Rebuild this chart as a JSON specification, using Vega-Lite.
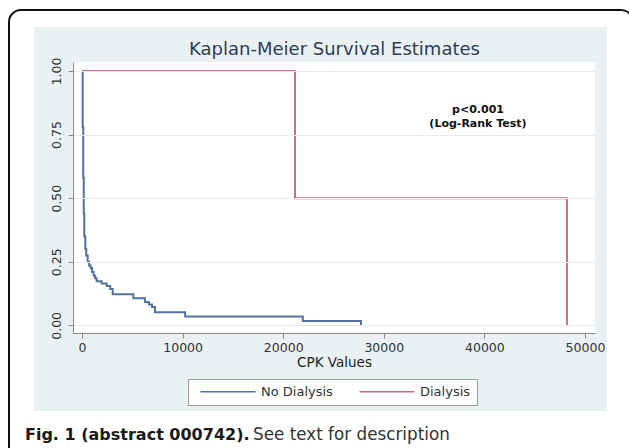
{
  "$schema": "https://vega.github.io/schema/vega-lite/v6.json",
  "width": 522,
  "height": 271,
  "autosize": {"type": "none"},
  "padding": {"left": 73, "top": 62, "right": 34, "bottom": 115},
  "background": "white",
  "config": {"view": {"stroke": null, "fill": "white"}, "font": "DejaVu Sans"},
  "datasets": {
    "km": [
      {"group": "No Dialysis", "cpk": 0, "surv": 1.0},
      {"group": "No Dialysis", "cpk": 60, "surv": 0.78},
      {"group": "No Dialysis", "cpk": 120, "surv": 0.58},
      {"group": "No Dialysis", "cpk": 170, "surv": 0.44},
      {"group": "No Dialysis", "cpk": 220, "surv": 0.35},
      {"group": "No Dialysis", "cpk": 320, "surv": 0.30},
      {"group": "No Dialysis", "cpk": 420, "surv": 0.275},
      {"group": "No Dialysis", "cpk": 560, "surv": 0.25},
      {"group": "No Dialysis", "cpk": 700, "surv": 0.235},
      {"group": "No Dialysis", "cpk": 850, "surv": 0.225},
      {"group": "No Dialysis", "cpk": 1000, "surv": 0.21},
      {"group": "No Dialysis", "cpk": 1150, "surv": 0.195},
      {"group": "No Dialysis", "cpk": 1300, "surv": 0.185},
      {"group": "No Dialysis", "cpk": 1450, "surv": 0.173},
      {"group": "No Dialysis", "cpk": 1950, "surv": 0.165},
      {"group": "No Dialysis", "cpk": 2450, "surv": 0.155},
      {"group": "No Dialysis", "cpk": 2800, "surv": 0.143},
      {"group": "No Dialysis", "cpk": 3050, "surv": 0.122},
      {"group": "No Dialysis", "cpk": 5100, "surv": 0.107},
      {"group": "No Dialysis", "cpk": 6250, "surv": 0.092},
      {"group": "No Dialysis", "cpk": 6650, "surv": 0.082},
      {"group": "No Dialysis", "cpk": 6950, "surv": 0.072},
      {"group": "No Dialysis", "cpk": 7250, "surv": 0.052},
      {"group": "No Dialysis", "cpk": 10250, "surv": 0.035},
      {"group": "No Dialysis", "cpk": 21950, "surv": 0.017},
      {"group": "No Dialysis", "cpk": 27730, "surv": 0.0},
      {"group": "Dialysis", "cpk": 0, "surv": 1.0},
      {"group": "Dialysis", "cpk": 21170, "surv": 0.5},
      {"group": "Dialysis", "cpk": 48210, "surv": 0.0}
    ],
    "one": [{}]
  },
  "layer": [
    {
      "data": {"name": "one"},
      "mark": {"type": "rect", "fill": "none", "stroke": "#111111", "strokeWidth": 2, "cornerRadius": 12},
      "encoding": {
        "x": {"datum": -7263, "type": "quantitative", "scale": {"domain": [-900, 51000], "nice": false, "zero": false}},
        "x2": {"datum": 54777},
        "y": {"datum": 1.2394, "type": "quantitative", "scale": {"domain": [-0.03, 1.035], "nice": false, "zero": false}},
        "y2": {"datum": -0.5684}
      }
    },
    {
      "data": {"name": "one"},
      "mark": {"type": "rect", "fill": "#e9f1f3"},
      "encoding": {
        "x": {"datum": -4778, "type": "quantitative", "scale": {"domain": [-900, 51000], "nice": false, "zero": false}},
        "x2": {"datum": 52192},
        "y": {"datum": 1.1725, "type": "quantitative", "scale": {"domain": [-0.03, 1.035], "nice": false, "zero": false}},
        "y2": {"datum": -0.3365}
      }
    },
    {
      "data": {"name": "one"},
      "mark": {"type": "rect", "fill": "white"},
      "encoding": {
        "x": {"datum": -900, "type": "quantitative", "scale": {"domain": [-900, 51000], "nice": false, "zero": false}},
        "x2": {"datum": 51000},
        "y": {"datum": -0.03, "type": "quantitative", "scale": {"domain": [-0.03, 1.035], "nice": false, "zero": false}},
        "y2": {"datum": 1.035}
      }
    },
    {
      "data": {"name": "km"},
      "mark": {"type": "line", "interpolate": "step-after", "strokeWidth": 2},
      "encoding": {
        "x": {
          "field": "cpk", "type": "quantitative",
          "scale": {"domain": [-900, 51000], "nice": false, "zero": false},
          "axis": {
            "values": [0, 10000, 20000, 30000, 40000, 50000], "format": "d",
            "labelPadding": 3, "tickSize": 5, "grid": false,
            "domainColor": "#8a8a8a", "tickColor": "#8a8a8a", "labelColor": "#333333",
            "labelFontSize": 12.5, "labelFlush": false, "labelOverlap": false,
            "title": "CPK Values", "titleFontSize": 13.5, "titleFontWeight": "normal",
            "titleColor": "#222222", "titlePadding": 2, "zindex": 1
          }
        },
        "y": {
          "field": "surv", "type": "quantitative",
          "scale": {"domain": [-0.03, 1.035], "nice": false, "zero": false},
          "axis": {
            "values": [0, 0.25, 0.5, 0.75, 1], "format": ".2f",
            "labelAngle": 270, "labelAlign": "center", "labelBaseline": "bottom",
            "labelPadding": 5, "tickSize": 5, "grid": true, "gridColor": "#e3edf0",
            "domainColor": "#8a8a8a", "tickColor": "#8a8a8a", "labelColor": "#333333",
            "labelFontSize": 12.5, "title": null, "zindex": 1
          }
        },
        "color": {
          "field": "group", "type": "nominal",
          "scale": {"domain": ["No Dialysis", "Dialysis"], "range": ["#52739e", "#c5707a"]},
          "legend": {
            "orient": "none", "legendX": 115, "legendY": 317,
            "direction": "horizontal", "columns": 2, "title": null,
            "symbolType": "M 0 0 H 11", "symbolSize": 100, "symbolStrokeWidth": 1.5,
            "labelFontSize": 13, "labelColor": "#333333", "labelOffset": 54,
            "columnPadding": 20, "padding": 6, "strokeColor": "#999999",
            "fillColor": "white", "zindex": 1
          }
        }
      }
    },
    {
      "data": {"name": "one"},
      "mark": {"type": "text", "fontSize": 18, "color": "#2c3d5c", "align": "center", "baseline": "alphabetic"},
      "encoding": {
        "x": {"datum": 25099, "type": "quantitative", "scale": {"domain": [-900, 51000], "nice": false, "zero": false}},
        "y": {"datum": 1.0625, "type": "quantitative", "scale": {"domain": [-0.03, 1.035], "nice": false, "zero": false}},
        "text": {"value": "Kaplan-Meier Survival Estimates"}
      }
    },
    {
      "data": {"name": "one"},
      "mark": {"type": "text", "fontSize": 11, "fontWeight": "bold", "color": "#111111", "align": "center", "baseline": "middle", "lineHeight": 14.5},
      "encoding": {
        "x": {"datum": 39366, "type": "quantitative", "scale": {"domain": [-900, 51000], "nice": false, "zero": false}},
        "y": {"datum": 0.848, "type": "quantitative", "scale": {"domain": [-0.03, 1.035], "nice": false, "zero": false}},
        "text": {"value": ["p<0.001", "(Log-Rank Test)"]}
      }
    },
    {
      "data": {"name": "one"},
      "mark": {"type": "text", "fontSize": 16, "fontWeight": "bold", "color": "#1a1a1a", "align": "left", "baseline": "alphabetic"},
      "encoding": {
        "x": {"datum": -5672, "type": "quantitative", "scale": {"domain": [-900, 51000], "nice": false, "zero": false}},
        "y": {"datum": -0.4505, "type": "quantitative", "scale": {"domain": [-0.03, 1.035], "nice": false, "zero": false}},
        "text": {"value": "Fig. 1 (abstract 000742)."}
      }
    },
    {
      "data": {"name": "one"},
      "mark": {"type": "text", "fontSize": 16.8, "color": "#333333", "align": "left", "baseline": "alphabetic"},
      "encoding": {
        "x": {"datum": 16996, "type": "quantitative", "scale": {"domain": [-900, 51000], "nice": false, "zero": false}},
        "y": {"datum": -0.4505, "type": "quantitative", "scale": {"domain": [-0.03, 1.035], "nice": false, "zero": false}},
        "text": {"value": "See text for description"}
      }
    }
  ]
}
